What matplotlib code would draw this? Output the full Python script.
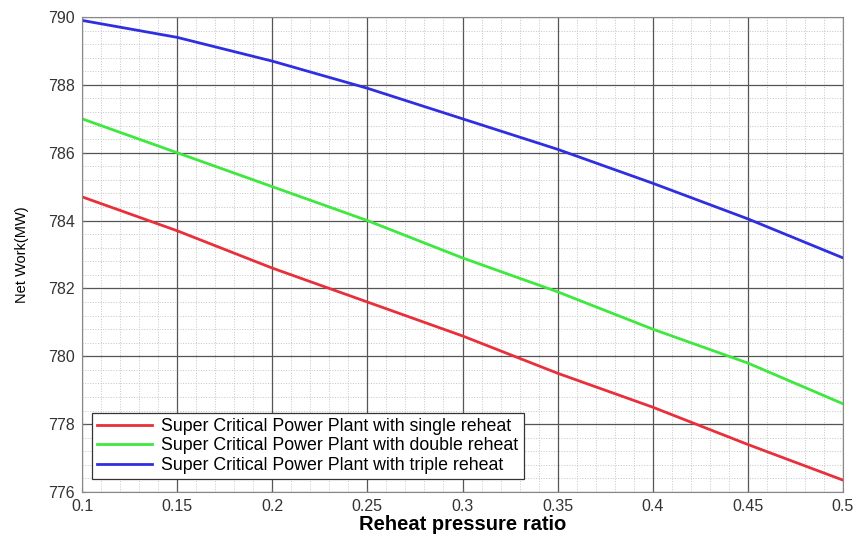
import matplotlib.pyplot as plt
from matplotlib.ticker import MultipleLocator

plt.rcParams['font.family'] = ['Liberation Sans', 'DejaVu Sans']

# Данные
ratio = [0.1, 0.15, 0.2, 0.25, 0.3, 0.35, 0.4, 0.45, 0.5]
single_reheat = [784.7, 783.7, 782.6, 781.6, 780.6, 779.5, 778.5, 777.4, 776.35]
double_reheat = [787.0, 786.0, 785.0, 784.0, 782.9, 781.9, 780.8, 779.8, 778.6]
triple_reheat = [789.9, 789.4, 788.7, 787.9, 787.0, 786.1, 785.1, 784.05, 782.9]

labels = ['Super Critical Power Plant with single reheat',
          'Super Critical Power Plant with double reheat',
          'Super Critical Power Plant with triple reheat']
xtick_labels = ['0.1', '0.15', '0.2', '0.25', '0.3', '0.35', '0.4', '0.45', '0.5']

fig = plt.figure(figsize=(8.57, 5.37), dpi=100)
ax = fig.add_axes([82 / 857, 1 - 492 / 537, 761 / 857, 475 / 537])

ax.plot(ratio, single_reheat, color='#e8303a', lw=2, label=labels[0])
ax.plot(ratio, double_reheat, color='#3ee83e', lw=2, label=labels[1])
ax.plot(ratio, triple_reheat, color='#2f2fe0', lw=2, label=labels[2])

ax.set_xlim(0.1, 0.5)
ax.set_ylim(776, 790)
ax.set_xticks(ratio)
ax.set_xticklabels(xtick_labels)
ax.xaxis.set_minor_locator(MultipleLocator(0.01))
ax.yaxis.set_major_locator(MultipleLocator(2))
ax.yaxis.set_minor_locator(MultipleLocator(0.4))

ax.grid(which='major', color='#555555', lw=0.9, ls='-')
ax.grid(which='minor', color='#c4c4c4', lw=0.7, ls=':')
ax.set_axisbelow(True)
ax.tick_params(which='both', direction='in', labelsize=11.5, labelcolor='#333333',
               color='#666666', length=3, pad=5)
ax.tick_params(which='minor', length=0)
for s in ax.spines.values():
    s.set_color('#888888')

ax.set_xlabel('Reheat pressure ratio', fontsize=14.5, fontweight='bold', labelpad=1)
ax.set_ylabel('Net Work(MW)', fontsize=10.5, labelpad=14)

leg = ax.legend(loc='lower left', bbox_to_anchor=(0.013, 0.027), borderaxespad=0,
                fontsize=12.8, fancybox=False, framealpha=1, edgecolor='#333333',
                handlelength=3.1, borderpad=0.3, labelspacing=0.14, handletextpad=0.5)
leg.get_frame().set_linewidth(0.9)

fig.savefig('out.png', dpi=100)
